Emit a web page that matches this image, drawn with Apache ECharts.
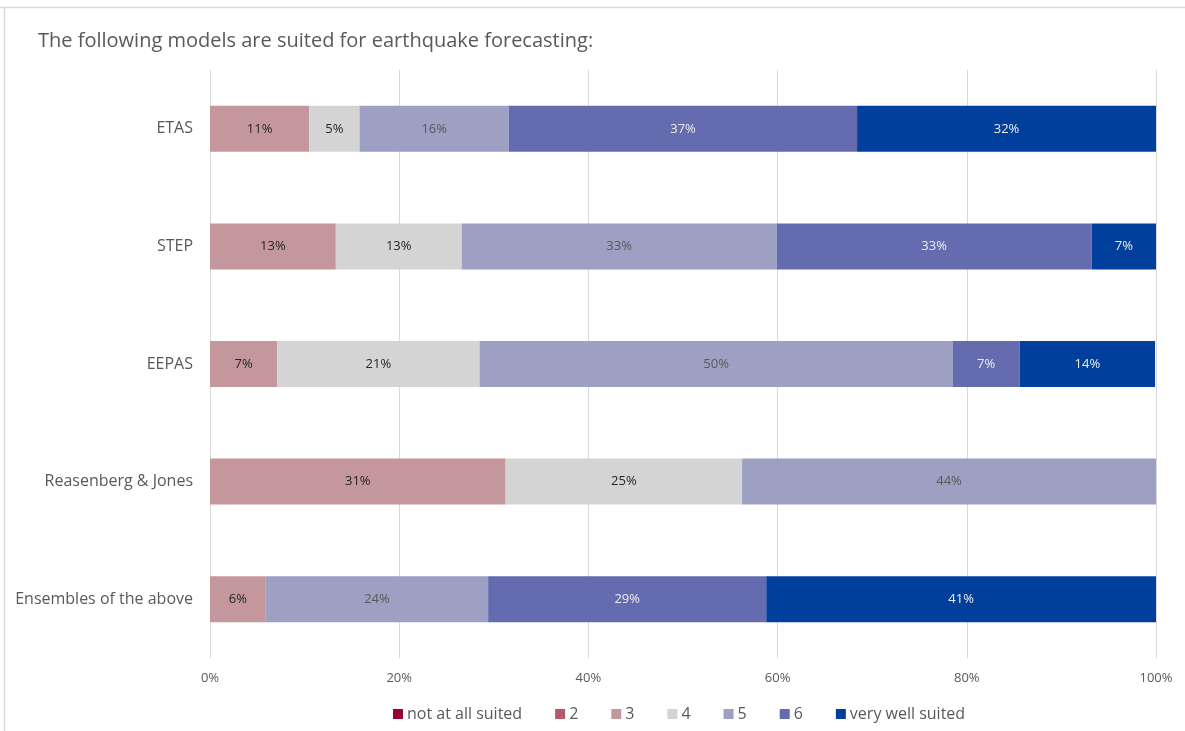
<!DOCTYPE html>
<html>
<head>
<meta charset="utf-8">
<script src="https://cdn.jsdelivr.net/npm/echarts@6/dist/echarts.min.js"></script>
<style>
  html, body { margin: 0; padding: 0; background: #fff; }
  #chart { width: 1185px; height: 731px; }
</style>
</head>
<body>
<div id="chart"></div>
<script>
// models, top to bottom
const models = ['ETAS', 'STEP', 'EEPAS', 'Reasenberg & Jones', 'Ensembles of the above'];
const levels = ['not at all suited', '2', '3', '4', '5', '6', 'very well suited'];

// share of answers per level, in percent
const notAtAll = [0, 0, 0, 0, 0];
const level2 = [0, 0, 0, 0, 0];
const level3 = [10.5, 13.3, 7.1, 31.25, 5.9];
const level4 = [5.3, 13.3, 21.4, 25, 0];
const level5 = [15.8, 33.3, 50, 43.75, 23.5];
const level6 = [36.8, 33.3, 7.1, 0, 29.4];
const veryWell = [31.6, 6.8, 14.3, 0, 41.2];

const xTicks = [0, 20, 40, 60, 80, 100];

const colors = ['#990036', '#B5596A', '#C4979C', '#D4D4D4', '#9D9FC3', '#646CAF', '#00409C'];
const labelColors = ['#fff', '#fff', '#262626', '#262626', '#595959', '#ececec', '#ececec'];
const values = [notAtAll, level2, level3, level4, level5, level6, veryWell];

const font = '"Open Sans", "Noto Sans", sans-serif';

let chart = echarts.init(document.getElementById('chart'));

let series = levels.map((name, i) => ({
  name: name,
  type: 'bar',
  stack: 'total',
  barWidth: 46,
  itemStyle: { color: colors[i] },
  label: {
    show: true,
    position: 'inside',
    color: labelColors[i],
    fontFamily: font,
    fontSize: 13,
    formatter: p => (p.value > 0 ? Math.round(p.value) + '%' : '')
  },
  emphasis: { disabled: true },
  data: values[i]
}));

chart.setOption({
  animation: false,
  textStyle: { fontFamily: font },
  title: {
    text: 'The following models are suited for earthquake forecasting:',
    left: 33,
    top: 26,
    textStyle: { fontFamily: font, fontSize: 20, fontWeight: 'normal', color: '#595959' }
  },
  legend: {
    data: levels,
    bottom: 4,
    left: 388,
    itemWidth: 10,
    itemHeight: 10,
    itemGap: 33,
    icon: 'rect',
    textStyle: { fontFamily: font, fontSize: 16, color: '#595959', padding: [0, 0, 0, -1] }
  },
  grid: { left: 210, right: 29, top: 70, bottom: 73, containLabel: false },
  xAxis: {
    type: 'value',
    min: 0,
    max: 100,
    interval: 20,
    axisLine: { show: false },
    axisTick: { show: false },
    axisLabel: {
      margin: 14,
      color: '#595959',
      fontSize: 13,
      fontFamily: font,
      formatter: v => (xTicks.indexOf(v) >= 0 ? v + '%' : '')
    },
    splitLine: { show: true, lineStyle: { color: '#d9d9d9', width: 1 } }
  },
  yAxis: {
    type: 'category',
    data: models,
    inverse: true,
    axisLine: { show: false },
    axisTick: { show: false },
    axisLabel: { margin: 17, color: '#595959', fontSize: 16, fontFamily: font }
  },
  graphic: [
    { type: 'line', shape: { x1: 0, y1: 7.5, x2: 1185, y2: 7.5 }, style: { stroke: '#d9d9d9', lineWidth: 1.5 } },
    { type: 'line', shape: { x1: 4.5, y1: 7.5, x2: 4.5, y2: 731 }, style: { stroke: '#d9d9d9', lineWidth: 1.5 } }
  ],
  series: series
});
</script>
</body>
</html>
